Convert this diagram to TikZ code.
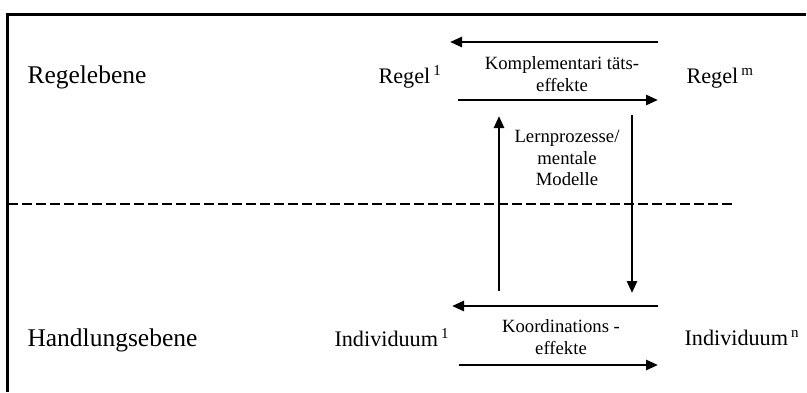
\documentclass[tikz,border=0pt]{standalone}
\usepackage{fontspec}
\setmainfont{Liberation Serif}
\usetikzlibrary{arrows.meta}
\newlength{\du}
\setlength{\du}{0.5pt}
\newcommand{\hochzahl}[1]{\kern1.5pt\raisebox{4pt}{\fontsize{7.5}{8}\selectfont #1}}
\tikzset{
  ebene/.style={anchor=base west,inner sep=0pt,font=\fontsize{12.75}{15}\selectfont},
  akteur/.style={anchor=base west,inner sep=0pt,font=\fontsize{11.1}{13}\selectfont},
  effekt/.style={align=center,inner sep=0pt,font=\fontsize{9.35}{10.75}\selectfont},
  pfeil/.style={line width=1.3pt,-{Triangle[length=6pt,width=5pt]}}
}

\begin{document}
\begin{tikzpicture}
\pgftransformxscale{1.000000}
\pgftransformyscale{-1.000000}
\useasboundingbox (0\du,0\du) rectangle (807\du,392\du);
\definecolor{strichfarbe}{rgb}{0.000000, 0.000000, 0.000000}
\pgfsetstrokecolor{strichfarbe}
\pgfsetlinewidth{3.000000\du}
\pgfsetdash{}{0pt}
\pgfsetbuttcap
\pgfsetmiterjoin
% rahmen, nur oben und links sichtbar
\pgfpathmoveto{\pgfpoint{7.000000\du}{392.000000\du}}
\pgfpathlineto{\pgfpoint{7.000000\du}{14.000000\du}}
\pgfpathlineto{\pgfpoint{806.000000\du}{14.000000\du}}
\pgfusepath{stroke}
\node[ebene] (regelebene) at (26.000000\du,83.000000\du){Regelebene};
\node[ebene] (handlungsebene) at (26.000000\du,346.000000\du){Handlungsebene};
\node[akteur] (regel1) at (377.000000\du,83.000000\du){Regel\hochzahl{1}};
\node[akteur] (regelm) at (685.000000\du,83.000000\du){Regel\hochzahl{m}};
\node[akteur] (individuum1) at (333.000000\du,346.000000\du){Individuum\hochzahl{1}};
\node[akteur] (individuumn) at (683.000000\du,345.000000\du){Individuum\hochzahl{n}};
\node[effekt] (komplementaritaet) at (562.000000\du,74.000000\du){Komplementari täts-\\effekte};
\node[effekt] (lernprozesse) at (567.000000\du,158.000000\du){Lernprozesse/\\mentale\\Modelle};
\node[effekt] (koordination) at (561.000000\du,337.000000\du){Koordinations -\\effekte};
\coordinate (regelOben1) at (658.000000\du,42.000000\du);
\coordinate (regelOben2) at (450.000000\du,42.000000\du);
\coordinate (regelUnten1) at (458.000000\du,100.000000\du);
\coordinate (regelUnten2) at (658.000000\du,100.000000\du);
\coordinate (lernAuf1) at (499.000000\du,291.000000\du);
\coordinate (lernAuf2) at (499.000000\du,116.000000\du);
\coordinate (lernAb1) at (632.000000\du,115.000000\du);
\coordinate (lernAb2) at (632.000000\du,293.000000\du);
\coordinate (koordOben1) at (658.000000\du,306.000000\du);
\coordinate (koordOben2) at (452.000000\du,306.000000\du);
\coordinate (koordUnten1) at (459.000000\du,365.000000\du);
\coordinate (koordUnten2) at (658.000000\du,365.000000\du);
\coordinate (trennLinks) at (8.000000\du,204.000000\du);
\coordinate (trennRechts) at (732.000000\du,204.000000\du);
\draw[pfeil] (regelOben1)--(regelOben2);
\draw[pfeil] (regelUnten1)--(regelUnten2);
\draw[pfeil] (lernAuf1)--(lernAuf2);
\draw[pfeil] (lernAb1)--(lernAb2);
\draw[pfeil] (koordOben1)--(koordOben2);
\draw[pfeil] (koordUnten1)--(koordUnten2);
% trennlinie zwischen den ebenen
{
\pgfsetlinewidth{2.000000\du}
\pgfsetdash{{10.000000\du}{4.000000\du}}{0cm}
\pgfsetbuttcap
\draw (trennLinks)--(trennRechts);
}
\end{tikzpicture}
\end{document}
